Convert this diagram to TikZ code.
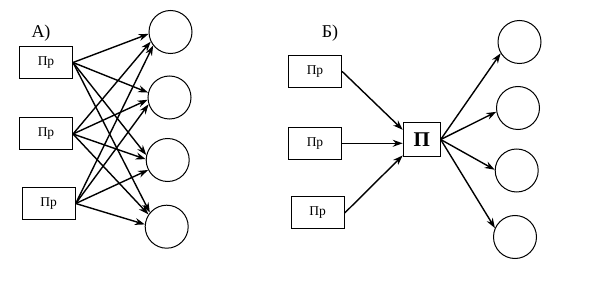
\documentclass[tikz,border=0pt]{standalone}
\usepackage{fontspec}
\setmainfont{Liberation Serif}
\usetikzlibrary{arrows.meta}
\tikzset{
  prbox/.style={draw,line width=1pt,minimum width=53pt,minimum height=32pt,inner sep=0pt,font=\fontsize{13.5}{15}\selectfont},
  pbox/.style={draw,line width=1pt,minimum width=37pt,minimum height=34pt,inner sep=0pt,font=\fontsize{21}{23}\selectfont\bfseries},
  circ/.style={draw,circle,line width=1pt,minimum size=43pt,inner sep=0pt},
  arr/.style={-{Stealth[length=10pt,width=7pt]},line width=1.4pt},
  lbl/.style={font=\fontsize{18}{20}\selectfont}
}
\begin{document}
\begin{tikzpicture}[x=1pt,y=-1pt]
  \useasboundingbox (0,0) rectangle (603,286);
  % A)
  \node[lbl] (LA) at (41,33) {А)};
  \node[prbox] (A1) at (46,62.5) {Пр};
  \node[prbox] (A2) at (46,134) {Пр};
  \node[prbox] (A3) at (48.7,203.5) {Пр};
  \node[circ] (a1) at (170.5,32) {};
  \node[circ] (a2) at (169.5,97.5) {};
  \node[circ] (a3) at (167.7,160) {};
  \node[circ] (a4) at (166.7,226.7) {};
  \foreach \s/\t/\a in {A1/a1/185,A1/a2/167,A1/a3/167,A1/a4/140,
                        A2/a1/206,A2/a2/186,A2/a3/178,A2/a4/146,
                        A3/a1/218,A3/a2/198,A3/a3/207,A3/a4/174}
    \draw[arr] (\s.east) -- (\t.\a);
  % B)
  \node[lbl] (LB) at (330,33) {Б)};
  \node[prbox] (B1) at (315,71.3) {Пр};
  \node[prbox] (B2) at (315,143.3) {Пр};
  \node[prbox] (B3) at (317.7,213) {Пр};
  \node[pbox] (P) at (421.7,139.5) {П};
  \node[circ] (b1) at (519.5,42) {};
  \node[circ] (b2) at (518,108) {};
  \node[circ] (b3) at (516.7,170.5) {};
  \node[circ] (b4) at (515,237) {};
  \draw[arr] (B1.east) -- (P.153);
  \draw[arr] (B2.east) -- (B2.east -| P.west);
  \draw[arr] (B3.east) -- (P.220);
  \foreach \t/\a in {b1/211,b2/190,b3/178,b4/156}
    \draw[arr] (P.east) -- (\t.\a);
\end{tikzpicture}
\end{document}
